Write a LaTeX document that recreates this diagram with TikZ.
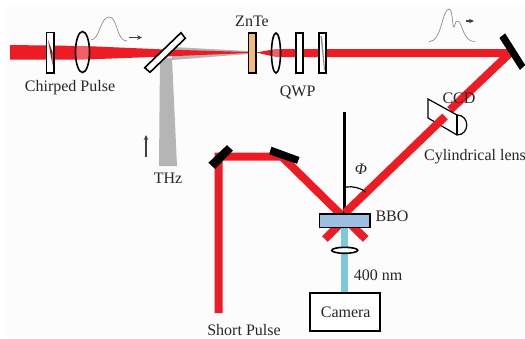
\documentclass[tikz,border=0pt]{standalone}
\usepackage{fontspec}
\setmainfont{Liberation Serif}
\definecolor{beam}{HTML}{ED1C24}
\definecolor{bggray}{HTML}{FCFCFC}
\definecolor{thz}{HTML}{B5B5B5}
\definecolor{blu}{HTML}{7EC8DC}
\definecolor{bbo}{HTML}{9DBFE3}
\definecolor{znte}{HTML}{F4B97F}
\tikzset{
 lbl/.style={font=\fontsize{16}{16}\selectfont,text=black!85,inner sep=0pt},
 optic/.style={draw=black,line width=1.6pt,fill=white},
 blk/.style={fill=black,draw=black,line width=.8pt},
 rbeam/.style={draw=beam,line width=8pt},
 pulse/.style={draw=black!50,line width=.6pt},
 arr/.style={draw=black!75,line width=1.1pt,-{Stealth[length=5pt,width=4.5pt]}}
}
\usetikzlibrary{arrows.meta}
\begin{document}
\begin{tikzpicture}[x=1pt,y=-1pt]
\useasboundingbox (0,0) rectangle (525,338);
\fill[white] (0,0) rectangle (525,338);
\fill[bggray] (6,7) rectangle (525,338);
% THz
\fill[thz] (160,58) -- (172,58) -- (177,166) -- (159,166) -- cycle;
\fill[thz] (172,47) -- (248,51) -- (248,54) -- (172,60) -- cycle;
% chirped beam
\fill[beam] (10,45) -- (85,46) -- (165,49.5) -- (248,52) -- (248,53) -- (165,56.5) -- (85,59.5) -- (10,59.5) -- cycle;
\fill[beam] (256,52.5) -- (276,49) -- (510,49) -- (510,57) -- (276,57) -- cycle;
% beam after mirror
\draw[rbeam] (510,53) -- (450,110);
\draw[rbeam] (218.5,313) -- (218.5,156.7) -- (282,156.7) -- (365.7,239);
\draw[rbeam] (325,239) -- (348,216);
% centre line
\draw[black,line width=3pt] (344.5,112) -- (344.5,215);
% cylindrical lens
\filldraw[draw=black,line width=1.2pt,fill=bggray] (428,99) -- (457,115) .. controls (470,115) and (470,135) .. (457,135) -- (428,118) -- cycle;
\draw[black,line width=1.2pt] (457,115) -- (457,135);
\draw[rbeam] (345,213) -- (445,116.5);
% blue
\fill[blu] (341,227) rectangle (348.3,293);
% elements
\draw[optic,fill=white] (46.5,32.5) rectangle (54,73);
\fill[beam!65!black] (48,40) -- (52.5,52) -- (52.5,65) -- cycle;
\draw[optic,fill=none] (46.5,32.5) rectangle (54,73);
\draw[optic,fill=white,fill opacity=.3] (82.5,52) ellipse (7 and 20.5);
\draw[optic] (181,32.7) -- (185.3,38.3) -- (150,72.3) -- (144.7,67.7) -- cycle;
\draw[optic,fill=znte] (248.5,33) rectangle (256,73);
\draw[optic,fill=white,fill opacity=.3] (276,53) ellipse (4.5 and 20);
\draw[optic] (296,33) rectangle (303,73);
\draw[optic] (319,33) rectangle (326,73);
\fill[black!45] (320.5,36) -- (322,36) -- (325,70) -- (324,70) -- cycle;
\fill[blk] (500,38) -- (505,34) -- (524.7,65) -- (520,69.3) -- cycle;
\fill[blk] (209,162.7) -- (227,145.7) -- (232.3,150.7) -- (215,168.3) -- cycle;
\fill[blk] (271.7,147.3) -- (299,157.3) -- (296.7,163.3) -- (269.7,154) -- cycle;
\draw[draw=black,line width=1.2pt,fill=bbo] (319.5,214) rectangle (370,227.3);
\draw[optic] (344.7,250.3) ellipse (13 and 3);
\draw[draw=black,line width=1.8pt,fill=white] (309.7,292.7) rectangle (380,330.7);
\draw[black,line width=1.2pt] (346,187) .. controls (353,186) and (361,188) .. (365.7,192);
% pulses
\draw[pulse] (90.7,40) .. controls (100,40) and (100,17) .. (109,17) .. controls (118,17) and (116,41) .. (127,41);
\draw[pulse] (429,41.7) .. controls (442,41.7) and (442,9) .. (449,9) .. controls (453,9) and (452,27) .. (454,27) .. controls (455,27) and (455,21) .. (457,21) .. controls (463,21) and (462,41.7) .. (475,41.7);
\draw[arr] (129,37.5) -- (142,37.5);
\draw[arr] (466,21) -- (474,21);
\draw[arr] (146,157) -- (146,135);
% labels
\node[lbl] (chirp) at (70,88) {Chirped Pulse};
\node[lbl] (thzl) at (168,178) {THz};
\node[lbl] (zn) at (252,21) {ZnTe};
\node[lbl] (qwp) at (297.7,92) {QWP};
\node[lbl] (ccd) at (459,98) {CCD};
\node[lbl] (cyl) at (475,157) {Cylindrical lens};
\node[lbl,font=\fontsize{16}{16}\selectfont\itshape] (phi) at (361,169) {Φ};
\node[lbl] (bbol) at (392,216) {BBO};
\node[lbl] (nm) at (378,275) {400 nm};
\node[lbl] (cam) at (345.7,312) {Camera};
\node[lbl] (sp) at (244,330) {Short Pulse};
\end{tikzpicture}
\end{document}
